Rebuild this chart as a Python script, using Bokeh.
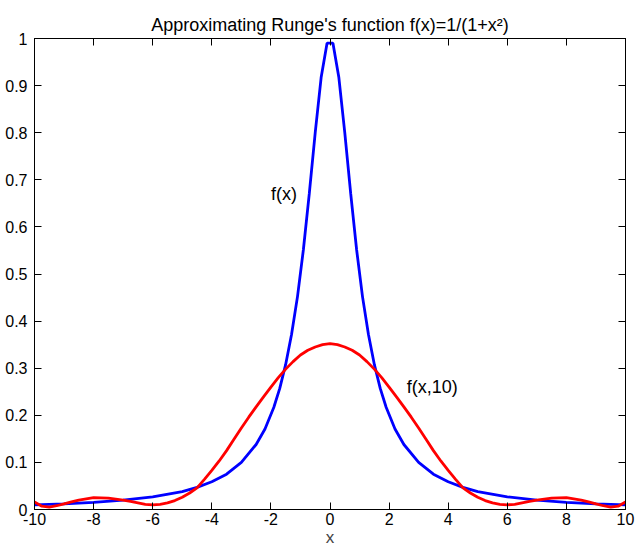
from bokeh.plotting import figure
from bokeh.models import Range1d, LinearAxis, FixedTicker
from bokeh.core.properties import value
from bokeh.embed import file_html
from bokeh.resources import INLINE

# ---- data ----
blue_x = [-10.0, -9.0, -8.0, -7.0, -6.0, -5.0, -4.5, -4.0, -3.5, -3.0, -2.5, -2.2,
          -1.9, -1.7, -1.5, -1.3, -1.1, -0.9, -0.7, -0.5, -0.3, -0.1,
          0.1, 0.3, 0.5, 0.7, 0.9, 1.1, 1.3, 1.5, 1.7, 1.9,
          2.2, 2.5, 3.0, 3.5, 4.0, 4.5, 5.0, 6.0, 7.0, 8.0, 9.0, 10.0]
blue_y = [0.010, 0.012, 0.015, 0.020, 0.027, 0.038, 0.047, 0.059, 0.075, 0.100, 0.138, 0.171,
          0.217, 0.257, 0.308, 0.372, 0.452, 0.552, 0.671, 0.800, 0.917, 0.990,
          0.990, 0.917, 0.800, 0.671, 0.552, 0.452, 0.372, 0.308, 0.257, 0.217,
          0.171, 0.138, 0.100, 0.075, 0.059, 0.047, 0.038, 0.027, 0.020, 0.015, 0.012, 0.010]

red_x = [-10.0, -9.75, -9.5, -9.25, -9.0, -8.75, -8.5, -8.0, -7.5, -7.0, -6.75, -6.5,
         -6.25, -6.0, -5.75, -5.5, -5.25, -5.0, -4.75, -4.5, -4.25, -4.0, -3.75, -3.5,
         -3.25, -3.0, -2.75, -2.5, -2.25, -2.0, -1.75, -1.5, -1.25, -1.0, -0.75, -0.5, -0.25,
         0.0, 0.25, 0.5, 0.75, 1.0, 1.25, 1.5, 1.75, 2.0, 2.25, 2.5, 2.75, 3.0, 3.25,
         3.5, 3.75, 4.0, 4.25, 4.5, 4.75, 5.0, 5.25, 5.5, 5.75, 6.0, 6.25,
         6.5, 6.75, 7.0, 7.5, 8.0, 8.5, 8.75, 9.0, 9.25, 9.5, 9.75, 10.0]
red_y = [0.016, 0.007, 0.005, 0.008, 0.012, 0.016, 0.020, 0.025, 0.024, 0.020, 0.017, 0.014,
         0.011, 0.010, 0.011, 0.014, 0.019, 0.026, 0.035, 0.046, 0.064, 0.083, 0.103, 0.125,
         0.149, 0.173, 0.196, 0.218, 0.239, 0.260, 0.280, 0.298, 0.314, 0.328, 0.338, 0.345, 0.350,
         0.352, 0.350, 0.345, 0.338, 0.328, 0.314, 0.298, 0.280, 0.260, 0.239, 0.218, 0.196, 0.173, 0.149,
         0.125, 0.103, 0.083, 0.064, 0.046, 0.035, 0.026, 0.019, 0.014, 0.011, 0.010, 0.011,
         0.014, 0.017, 0.020, 0.024, 0.025, 0.020, 0.016, 0.012, 0.008, 0.005, 0.007, 0.016]

x_ticks = [-10, -8, -6, -4, -2, 0, 2, 4, 6, 8, 10]
x_tick_labels = ["-10", "-8", "-6", "-4", "-2", "0", "2", "4", "6", "8", "10"]
y_ticks = [0, 0.1, 0.2, 0.3, 0.4, 0.5, 0.6, 0.7, 0.8, 0.9, 1]
y_tick_labels = ["0", "0.1", "0.2", "0.3", "0.4", "0.5", "0.6", "0.7", "0.8", "0.9", "1"]

label_x = [-2.0, 2.6]
label_y = [0.67, 0.26]
label_text = ["f(x)", "f(x,10)"]

title_text = "Approximating Runge's function f(x)=1/(1+x\u00b2)"
FONT = "Liberation Sans"

p = figure(width=635, height=549, output_backend="svg", toolbar_location=None,
           x_range=Range1d(-10, 10), y_range=Range1d(0, 1),
           min_border_left=34, min_border_right=10, min_border_top=38, min_border_bottom=39)

p.title.text = title_text
p.title.align = "center"
p.title.text_font = FONT
p.title.text_font_size = "18px"
p.title.text_font_style = "normal"
p.title.text_color = "black"
p.title.standoff = 8

p.grid.visible = False
p.outline_line_color = "black"
p.outline_line_width = 1
p.background_fill_color = "white"
p.border_fill_color = "white"


def style_axis(ax, ticks, labels, show_labels=True):
    ax.ticker = FixedTicker(ticks=ticks)
    ax.major_label_overrides = {t: l for t, l in zip(ticks, labels)}
    ax.major_tick_in = 7
    ax.major_tick_out = 0
    ax.minor_tick_line_color = None
    ax.axis_line_color = "black"
    ax.major_tick_line_color = "black"
    ax.major_label_text_font = FONT
    ax.major_label_text_color = "black"
    if show_labels:
        ax.major_label_text_font_size = "16px"
    else:
        ax.major_label_text_font_size = "0px"
        ax.major_label_standoff = 0


xa = p.xaxis[0]
style_axis(xa, x_ticks, x_tick_labels)
xa.major_label_standoff = 3
xa.axis_label = "x"
xa.axis_label_text_font = FONT
xa.axis_label_text_font_size = "17px"
xa.axis_label_text_font_style = "normal"
xa.axis_label_standoff = 0

ya = p.yaxis[0]
style_axis(ya, y_ticks, y_tick_labels)
ya.major_label_standoff = 7

top = LinearAxis()
style_axis(top, x_ticks, ["" for _ in x_ticks], show_labels=False)
p.add_layout(top, "above")
right = LinearAxis()
style_axis(right, y_ticks, ["" for _ in y_ticks], show_labels=False)
p.add_layout(right, "right")

p.line(blue_x, blue_y, line_color="#0000ff", line_width=2.8)
p.line(red_x, red_y, line_color="#ff0000", line_width=2.8)

p.text(x=label_x, y=label_y, text=label_text, text_align="left", text_baseline="middle",
       text_font=value(FONT), text_font_size="18px", text_color="black")

open("out.html", "w").write(file_html(p, INLINE))
